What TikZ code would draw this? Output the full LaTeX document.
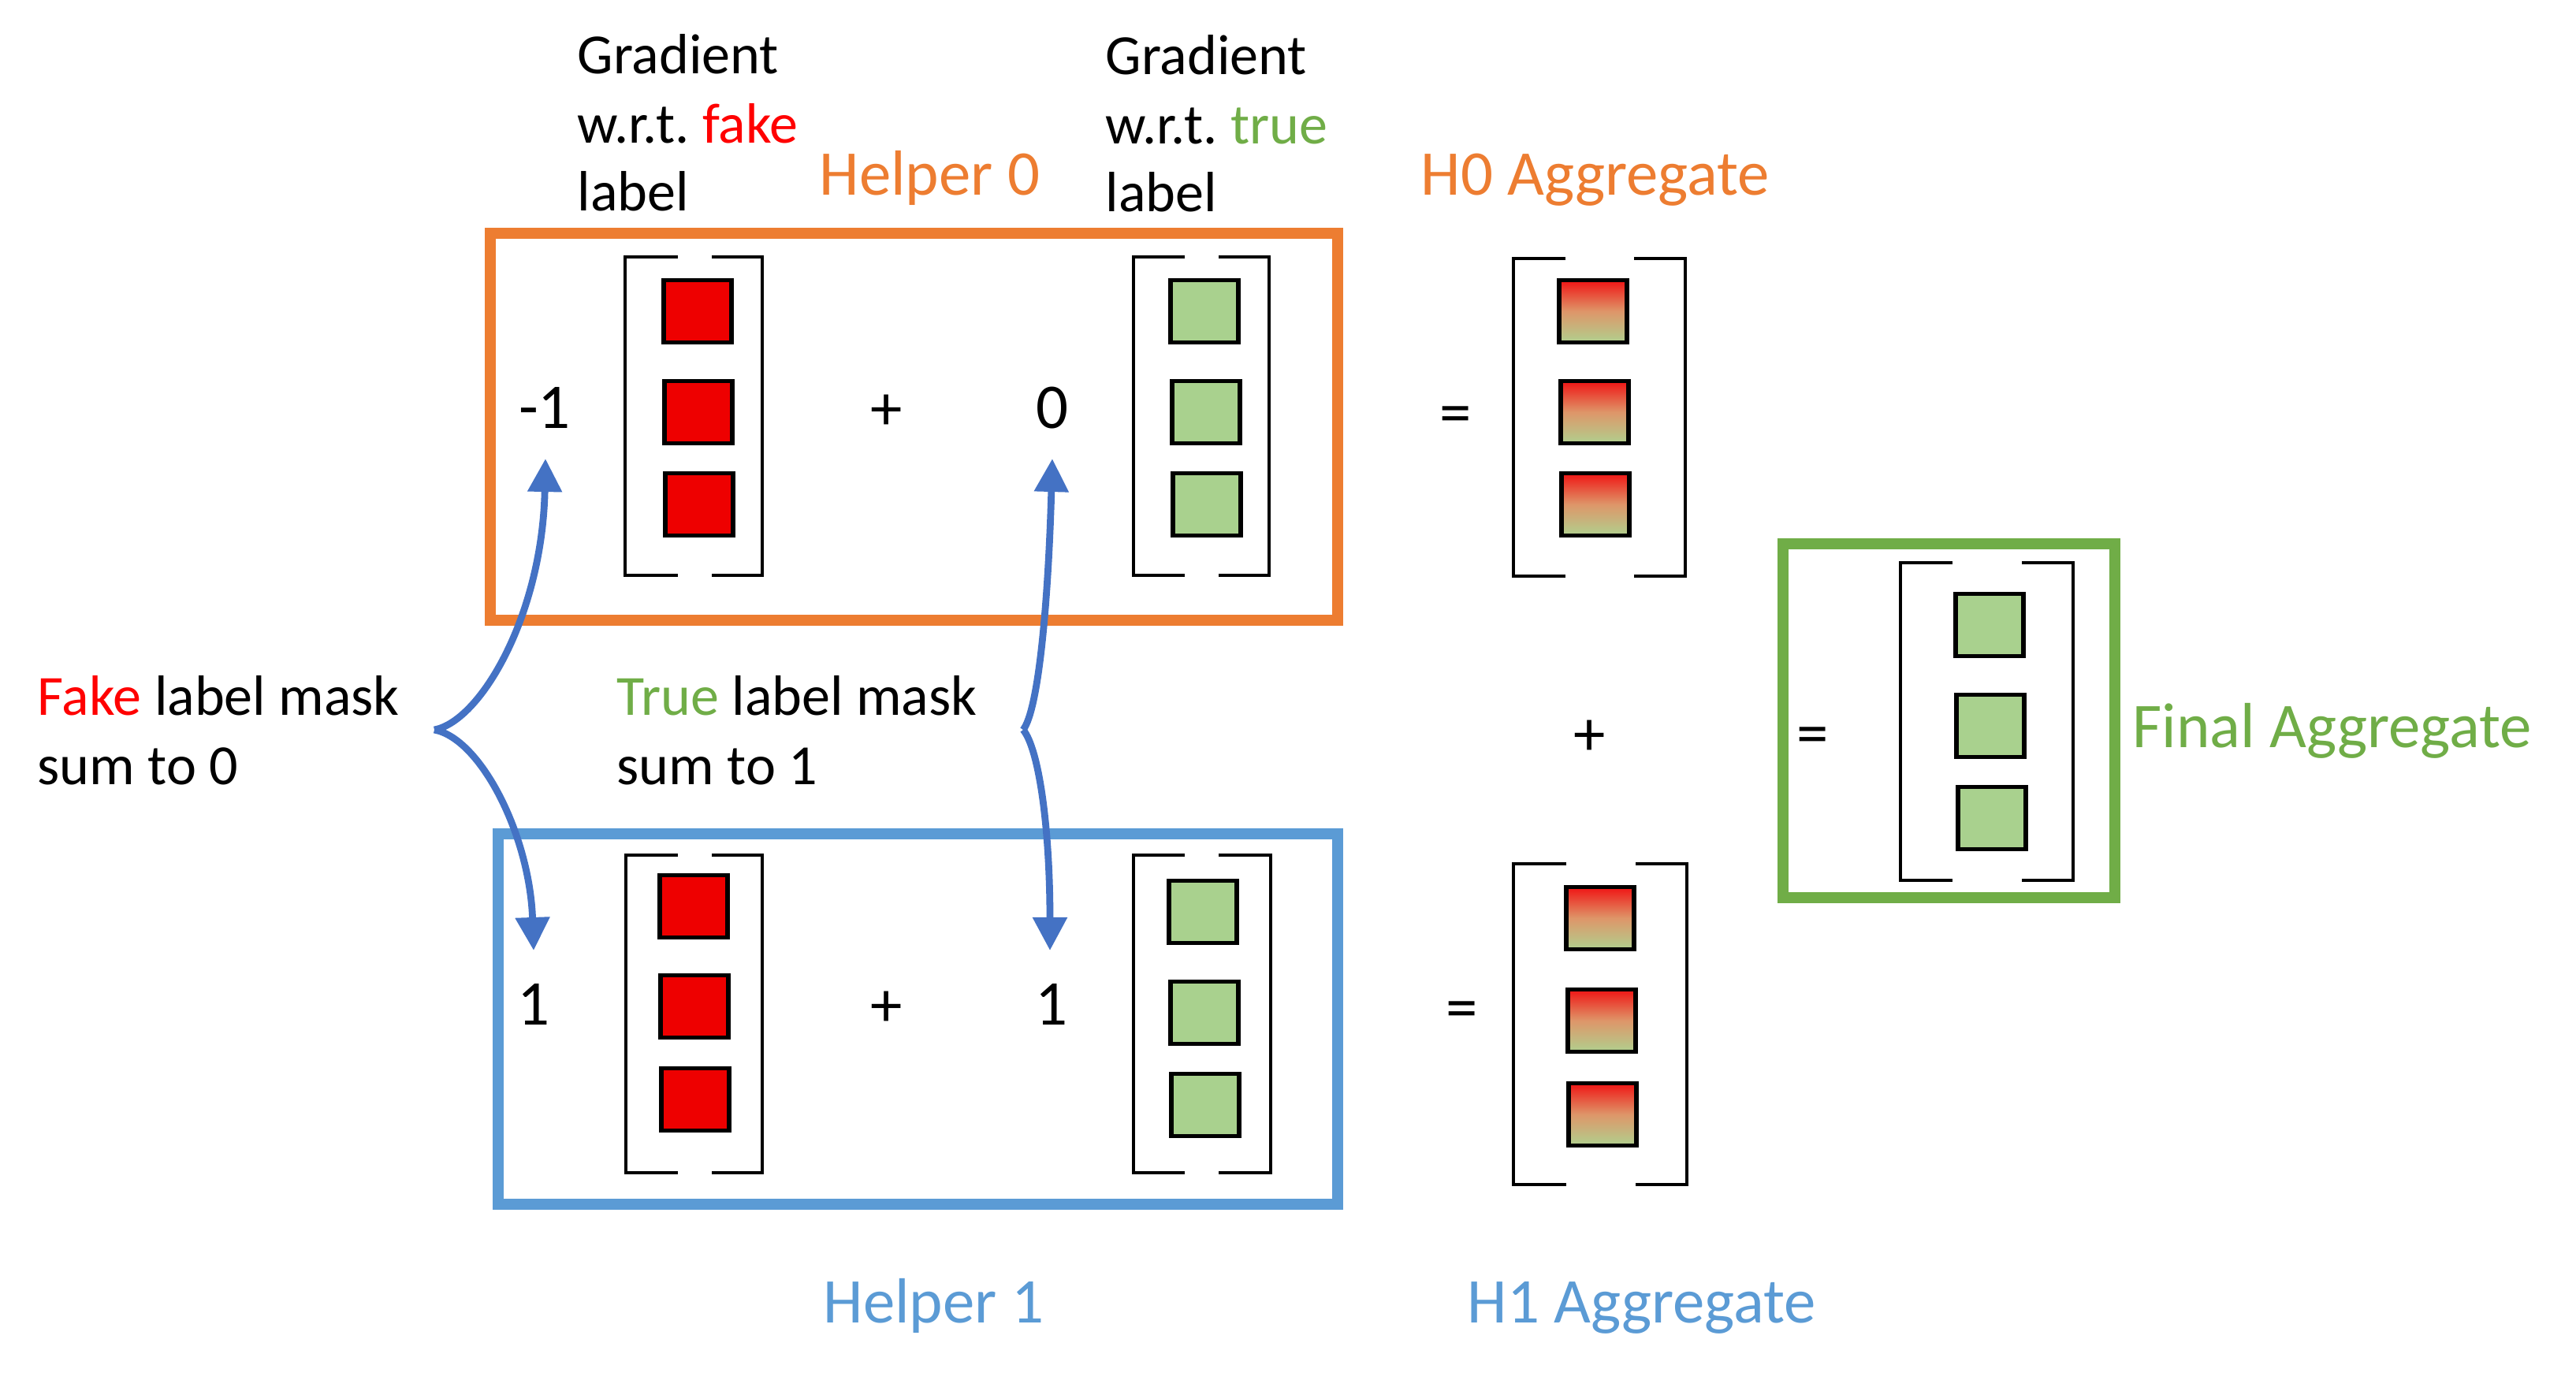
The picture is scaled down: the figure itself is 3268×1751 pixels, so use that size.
\documentclass[tikz,border=0pt]{standalone}
\usepackage{fontspec}
\setmainfont{Carlito}
\frenchspacing
\usetikzlibrary{arrows.meta}
\definecolor{boxorange}{HTML}{ED7D31}
\definecolor{boxblue}{HTML}{5B9BD5}
\definecolor{boxgreen}{HTML}{70AD47}
\definecolor{arrowblue}{HTML}{4472C4}
\definecolor{sqred}{HTML}{EE0000}
\definecolor{sqgreen}{HTML}{A9D18E}
\definecolor{txtred}{HTML}{FF0000}
\definecolor{gtop}{RGB}{240,20,20}
\definecolor{gmid}{RGB}{222,150,105}
\definecolor{gbot}{RGB}{176,208,142}
\tikzset{
  body/.style={font=\fontsize{20.5}{24}\selectfont, inner sep=0pt, anchor=base west},
  head/.style={font=\fontsize{23}{28}\selectfont, inner sep=0pt, anchor=base west},
  sym/.style={font=\fontsize{23}{28}\selectfont, inner sep=0pt, anchor=base},
  frame/.style={line width=3.8pt},
  brk/.style={line width=1.35pt, line join=miter},
  sq/.style={draw=black, line width=1.55pt, minimum width=0.86cm, minimum height=0.79cm, inner sep=0pt},
  redsq/.style={sq, fill=sqred},
  greensq/.style={sq, fill=sqgreen},
  mixsq/.style={sq, top color=gtop, bottom color=gbot, middle color=gmid},
  maskarrow/.style={draw=arrowblue, line width=2.5pt, -{Triangle[length=0.42cm,width=0.42cm]}},
}
\newcommand\mybrackets[6]{%
  \draw[brk] (#5,#3) -- (#1,#3) -- (#1,#4) -- (#5,#4);
  \draw[brk] (#6,#3) -- (#2,#3) -- (#2,#4) -- (#6,#4);}
\begin{document}
\begin{tikzpicture}[x=0.01cm, y=-0.01cm]
\useasboundingbox (0,0) rectangle (3268,1751);

% frames
\draw[frame, boxorange] (622,296) rectangle (1697,787);
\draw[frame, boxblue] (632,1058) rectangle (1697,1528);
\draw[frame, boxgreen] (2262,690) rectangle (2683,1139);

% top texts
\node[body] (g1a) at (732,93) {Gradient};
\node[body] (g1b) at (732,181) {w.r.t. \textcolor{txtred}{fake}};
\node[body] (g1c) at (732,267) {label};
\node[body] (g2a) at (1402,94) {Gradient};
\node[body] (g2b) at (1402,182) {w.r.t. \textcolor{boxgreen}{true}};
\node[body] (g2c) at (1402,268) {label};
\node[head, text=boxorange] (h0) at (1039,247) {Helper 0};
\node[head, text=boxorange] (h0agg) at (1802,247) {H0 Aggregate};
\node[head, text=boxblue] (h1) at (1044,1678) {Helper 1};
\node[head, text=boxblue] (h1agg) at (1861,1678) {H1 Aggregate};
\node[head, text=boxgreen] (fin) at (2705,948) {Final Aggregate};

% mask texts
\node[body] (fm1) at (47,907) {\textcolor{txtred}{Fake} label mask};
\node[body] (fm2) at (47,995) {sum to 0};
\node[body] (tm1) at (782,907) {\textcolor{boxgreen}{True} label mask};
\node[body] (tm2) at (782,995) {sum to 1};

% coefficients and operators
\node[sym] (c0f) at (691,543) {-1};
\node[sym] (p0) at (1125,545) {+};
\node[sym] (c0t) at (1335,543) {0};
\node[sym] (e0) at (1847,550) {=};
\node[sym] (c1f) at (677,1300) {1};
\node[sym] (p1) at (1125,1302) {+};
\node[sym] (c1t) at (1334,1300) {1};
\node[sym] (e1) at (1855,1305) {=};
\node[sym] (pm) at (2017,958) {+};
\node[sym] (ef) at (2300,957) {=};

% brackets
\mybrackets{793}{967}{326}{730}{860}{903}
\mybrackets{1438}{1610}{326}{730}{1503}{1546}
\mybrackets{1920}{2138}{328}{731}{1986}{2073}
\mybrackets{794}{967}{1085}{1488}{860}{903}
\mybrackets{1438}{1612}{1085}{1488}{1503}{1546}
\mybrackets{1920}{2140}{1096}{1503}{1987}{2075}
\mybrackets{2411}{2630}{714}{1117}{2477}{2565}

% squares
\node[redsq] (a1) at (885,395) {};
\node[redsq] (a2) at (886,523) {};
\node[redsq] (a3) at (887,640) {};
\node[greensq] (b1) at (1528,395) {};
\node[greensq] (b2) at (1530,523) {};
\node[greensq] (b3) at (1531,640) {};
\node[mixsq] (s1) at (2021,395) {};
\node[mixsq] (s2) at (2023,523) {};
\node[mixsq] (s3) at (2024,640) {};
\node[redsq] (d1) at (880,1150) {};
\node[redsq] (d2) at (881,1277) {};
\node[redsq] (d3) at (882,1395) {};
\node[greensq] (e1sq) at (1526,1157) {};
\node[greensq] (e2sq) at (1528,1285) {};
\node[greensq] (e3sq) at (1529,1402) {};
\node[mixsq] (t1) at (2030,1165) {};
\node[mixsq] (t2) at (2032,1295) {};
\node[mixsq] (t3) at (2033,1414) {};
\node[greensq] (f1) at (2524,793) {};
\node[greensq] (f2) at (2525,921) {};
\node[greensq] (f3) at (2527,1038) {};

% mask arrows
\coordinate (jf) at (551,926);
\coordinate (jt) at (1298,926);
\coordinate (tf0) at (692,582);
\coordinate (tf1) at (677,1206);
\coordinate (tt0) at (1335,582);
\coordinate (tt1) at (1332,1206);
\draw[maskarrow] (jf) .. controls (610,915) and (688,780) .. (tf0);
\draw[maskarrow] (jf) .. controls (610,937) and (672,1060) .. (tf1);
\draw[maskarrow] (jt) .. controls (1318,900) and (1330,760) .. (tt0);
\draw[maskarrow] (jt) .. controls (1318,950) and (1332,1050) .. (tt1);
\end{tikzpicture}
\end{document}
